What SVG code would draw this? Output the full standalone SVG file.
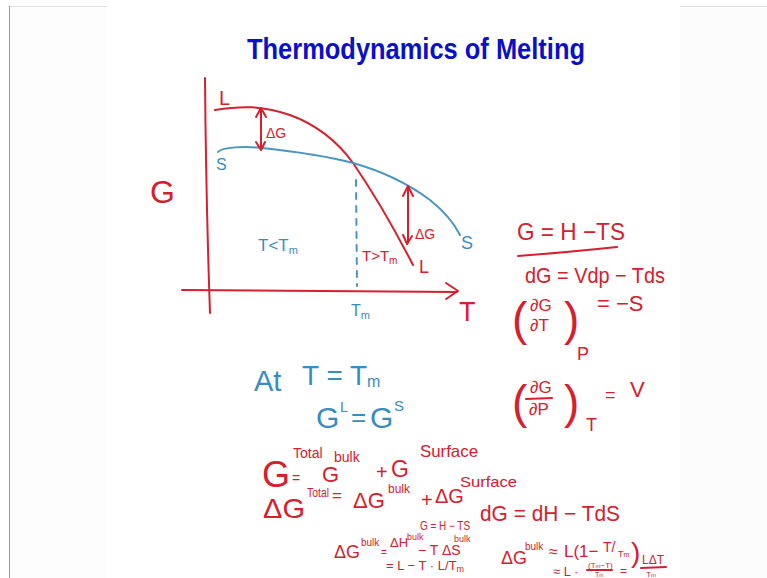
<svg xmlns="http://www.w3.org/2000/svg" width="767" height="578" viewBox="0 0 767 578">
<style>
.r{fill:#d5202e;font-family:"Liberation Sans","DejaVu Sans",sans-serif}
.b{fill:#3a8cc0;font-family:"Liberation Sans","DejaVu Sans",sans-serif}
.rs{fill:none;stroke:#d5202e;stroke-width:2;stroke-linecap:round;stroke-linejoin:round}
.bs{fill:none;stroke:#4a95c2;stroke-width:2;stroke-linecap:round;stroke-linejoin:round}
.title{fill:#0a10c8;font-family:"Liberation Sans",Arial,sans-serif;font-weight:bold}
</style>
<rect x="0" y="0" width="767" height="578" fill="#ffffff"/>
<rect x="10" y="6" width="97" height="572" fill="#fdfdfd"/>
<rect x="680" y="6" width="87" height="572" fill="#fcfcfc"/>
<line x1="9.5" y1="6" x2="9.5" y2="578" stroke="#9a9a9a" stroke-width="1"/>
<line x1="10" y1="6.5" x2="107" y2="6.5" stroke="#e2e2e2" stroke-width="1"/>
<line x1="680" y1="6.5" x2="767" y2="6.5" stroke="#e2e2e2" stroke-width="1"/>

<g id="title">
<text class="title" x="247" y="59" font-size="29" textLength="338" lengthAdjust="spacingAndGlyphs">Thermodynamics of Melting</text>
</g>

<g id="graph">
<path class="rs" d="M205,78 Q206,200 210,313"/>
<path class="rs" d="M182,290 L457,292"/>
<path class="rs" d="M446,283 L458,291 L446,299"/>
<path class="rs" d="M215,110 C240,106 262,105 290,115 C320,126 340,145 353,163 C375,195 395,230 413,265"/>
<path class="bs" d="M218,152 C222,147 245,146 262,148 C300,152 330,157 353,163 C385,172 410,185 430,200 C445,212 455,225 460,235"/>
<path class="bs" d="M356,180 L357,286" stroke-dasharray="6 7" stroke-width="1.3"/>
<path class="rs" d="M261,109 L261,149 M256,117 L261,108 L266,117 M256,142 L261,150 L265,142" stroke-width="1.6"/>
<path class="rs" d="M408,187 L408,243 M403,196 L408,186 L413,196 M403,235 L407,244 L412,236" stroke-width="1.6"/>
<text class="r" x="150" y="203" font-size="32">G</text>
<text class="r" x="219" y="105" font-size="20">L</text>
<text class="b" x="216" y="170" font-size="16">S</text>
<text class="r" x="266" y="138" font-size="14">ΔG</text>
<text class="r" x="415" y="239" font-size="14">ΔG</text>
<text class="b" x="258" y="251" font-size="17">T&lt;T<tspan font-size="11" dy="3">m</tspan></text>
<text class="r" x="362" y="261" font-size="15">T&gt;T<tspan font-size="10" dy="3">m</tspan></text>
<text class="r" x="419" y="273" font-size="18">L</text>
<text class="b" x="461" y="249" font-size="18">S</text>
<text class="b" x="351" y="316" font-size="16">T<tspan font-size="11" dy="3">m</tspan></text>
<text class="r" x="459" y="321" font-size="27">T</text>
</g>

<g id="relations">
<text class="r" x="517" y="240" font-size="24" textLength="108" lengthAdjust="spacingAndGlyphs">G = H −TS</text>
<path class="rs" d="M518,256 Q570,252 617,247"/>
<text class="r" x="525" y="283" font-size="22" textLength="140" lengthAdjust="spacingAndGlyphs">dG = Vdp − Tds</text>
<text class="r" x="512" y="335" font-size="46">(</text>
<text class="r" x="530" y="311" font-size="17">∂G</text>
<text class="r" x="530" y="331" font-size="17">∂T</text>
<text class="r" x="564" y="335" font-size="46">)</text>
<text class="r" x="577" y="360" font-size="18">P</text>
<text class="r" x="597" y="311" font-size="22">= −S</text>
<text class="r" x="512" y="418" font-size="46">(</text>
<text class="r" x="530" y="393" font-size="17">∂G</text>
<path class="rs" d="M526,399 L552,398" stroke-width="1.5"/>
<text class="r" x="529" y="415" font-size="17">∂P</text>
<text class="r" x="564" y="418" font-size="46">)</text>
<text class="r" x="586" y="431" font-size="18">T</text>
<text class="r" x="605" y="401" font-size="18">=</text>
<text class="r" x="630" y="397" font-size="22">V</text>
</g>

<g id="melting">
<text class="b" x="254" y="391" font-size="29">At</text>
<text class="b" x="302" y="385" font-size="28">T = T<tspan font-size="16" dy="2">m</tspan></text>
<text class="b" x="316" y="428" font-size="30">G</text>
<text class="b" x="340" y="412" font-size="14">L</text>
<text class="b" x="351" y="426" font-size="26">=</text>
<text class="b" x="370" y="428" font-size="30">G</text>
<text class="b" x="394" y="411" font-size="15">S</text>
</g>

<g id="total">
<text class="r" x="262" y="487" font-size="36">G</text>
<text class="r" x="293" y="458" font-size="14">Total</text>
<text class="r" x="292" y="483" font-size="14">=</text>
<text class="r" x="322" y="482" font-size="22">G</text>
<text class="r" x="334" y="462" font-size="14">bulk</text>
<text class="r" x="376" y="479" font-size="20">+</text>
<text class="r" x="391" y="477" font-size="23">G</text>
<text class="r" x="420" y="457" font-size="17" textLength="58" lengthAdjust="spacingAndGlyphs">Surface</text>

<text class="r" x="263" y="518" font-size="28" textLength="42" lengthAdjust="spacingAndGlyphs">ΔG</text>
<text class="r" x="307" y="497" font-size="12" textLength="22" lengthAdjust="spacingAndGlyphs">Total</text>
<text class="r" x="332" y="501" font-size="17">=</text>
<text class="r" x="353" y="508" font-size="22">ΔG</text>
<text class="r" x="388" y="493" font-size="12">bulk</text>
<text class="r" x="421" y="507" font-size="20">+</text>
<text class="r" x="435" y="503" font-size="20">ΔG</text>
<text class="r" x="460" y="487" font-size="15" textLength="57" lengthAdjust="spacingAndGlyphs">Surface</text>

<text class="r" x="480" y="521" font-size="22" textLength="140" lengthAdjust="spacingAndGlyphs">dG = dH − TdS</text>
<text class="r" x="420" y="530" font-size="12" textLength="50" lengthAdjust="spacingAndGlyphs">G = H − TS</text>

<text class="r" x="334" y="558" font-size="18">ΔG</text>
<text class="r" x="361" y="546" font-size="10">bulk</text>
<text class="r" x="381" y="556" font-size="10">=</text>
<text class="r" x="390" y="547" font-size="13">ΔH</text>
<text class="r" x="407" y="540" font-size="9">bulk</text>
<text class="r" x="418" y="555" font-size="14">− T ΔS</text>
<text class="r" x="454" y="542" font-size="9">bulk</text>
<text class="r" x="386" y="570" font-size="13">= L − T · L/T<tspan font-size="9" dy="2">m</tspan></text>

<text class="r" x="501" y="564" font-size="18">ΔG</text>
<text class="r" x="525" y="550" font-size="10">bulk</text>
<text class="r" x="549" y="557" font-size="16">≈</text>
<text class="r" x="564" y="557" font-size="17">L(1−</text>
<text class="r" x="603" y="552" font-size="14">T/</text>
<text class="r" x="618" y="557" font-size="9">T<tspan font-size="7">m</tspan></text>
<text class="r" x="631" y="562" font-size="28">)</text>
<text class="r" x="553" y="576" font-size="13">≈ L ·</text>
<text class="r" x="588" y="568" font-size="8">(T<tspan font-size="6">m</tspan>−T)</text>
<path class="rs" d="M587,570 L612,570" stroke-width="1.3"/>
<text class="r" x="595" y="577" font-size="7">T<tspan font-size="5">m</tspan></text>
<text class="r" x="620" y="575" font-size="12">=</text>
<text class="r" x="642" y="564" font-size="12">LΔT</text>
<path class="rs" d="M641,568 L666,567" stroke-width="1.3"/>
<text class="r" x="646" y="577" font-size="8">T<tspan font-size="6">m</tspan></text>
</g>
</svg>
